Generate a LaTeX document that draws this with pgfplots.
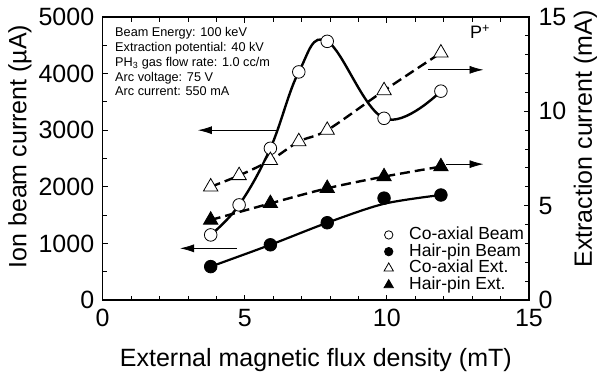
\documentclass[border=0pt]{standalone}
\usepackage{fontspec}
\setmainfont{Liberation Sans}
\usepackage{pgfplots}
\pgfplotsset{compat=1.18}
\usetikzlibrary{arrows.meta}
\tikzset{arr/.style={line width=0.8bp, -{Latex[length=14bp,width=8bp]}}}

\begin{document}
\begin{tikzpicture}
\pgfplotsset{
 common/.style={
  scale only axis, width=426.3bp, height=283bp,
  xmin=0, xmax=15,
  tick align=inside,
  major tick length=5.5bp, minor tick length=4.5bp,
  every tick/.style={line width=0.9bp, black},
  axis line style={line width=1.1bp},
  tick label style={font=\fontsize{25bp}{30bp}\selectfont},
  label style={font=\fontsize{25bp}{30bp}\selectfont},
  /pgf/number format/assume math mode=true,
  /pgf/number format/1000 sep={},
  scaled ticks=false,
  clip=false,
 },
}
\begin{axis}[common, name=ax,
  ymin=0, ymax=5000, ytick={0,1000,...,5000}, minor y tick num=1,
  xtick={0,5,10,15}, minor x tick num=4, xtick pos=both, ytick pos=left,
  xticklabel style={yshift=-6bp},
  yticklabel style={xshift=-5bp},
  xlabel={External magnetic flux density (mT)},
  ylabel={Ion beam current (µA)},
  xlabel style={at={(axis description cs:0.5,-0.2356)}, anchor=base},
  ylabel style={at={(axis description cs:-0.194,0.542)}, anchor=center},
]
\addplot[smooth, tension=0.65, line width=2.4bp, mark=*, mark size=6.3bp,
  mark options={solid, fill=white, draw=black, line width=0.8bp}]
  coordinates {(3.8,1150) (4.8,1680) (5.9,2680) (6.9,4030) (7.9,4570) (9.9,3210) (11.9,3690)};
% hair-pin beam: fitted line, then measured points
\addplot[smooth, line width=2.2bp]
  coordinates {(3.8,590) (5.9,975) (7.9,1365) (9.9,1700) (11.9,1855)};
\addplot[only marks, mark=*, mark size=6.3bp,
  mark options={solid, fill=black, draw=black, line width=0.8bp}]
  coordinates {(3.8,590) (5.9,975) (7.9,1365) (9.9,1800) (11.9,1855)};
\draw[arr] (axis cs:6.12,3000) -- (axis cs:3.35,3000);
\draw[arr] (axis cs:4.72,913) -- (axis cs:2.72,913);
\node[anchor=north west, inner sep=0pt, align=left, font=\fontsize{12.7bp}{14.9bp}\selectfont]
  at (rel axis cs:0.0289,0.9647) {Beam Energy: 100 keV\\Extraction potential: 40 kV\\PH\textsubscript{3} gas flow rate: 1.0 cc/m\\Arc voltage: 75 V\\Arc current: 550 mA};
\node[font=\fontsize{18bp}{20bp}\selectfont] at (rel axis cs:0.885,0.947) {P\textsuperscript{+}};
\end{axis}
\begin{axis}[common,
  ymin=0, ymax=15, ytick={0,5,10,15}, minor y tick num=4,
  axis x line=none, axis y line*=right,
  yticklabel style={xshift=6bp},
  ylabel={Extraction current (mA)},
  ylabel style={at={(axis description cs:1.1325,0.569)}, anchor=center},
  legend style={at={(rel axis cs:0.66,0.2594)}, anchor=north west, draw=none, fill=none,
    inner sep=0pt, outer sep=0pt, row sep=0pt, column sep=0pt,
    font=\fontsize{17.5bp}{20bp}\selectfont,
    nodes={inner ysep=0pt, inner xsep=0pt, text height=12.9bp, text depth=3.8bp}},
  legend cell align=left,
  legend image code/.code={\path[draw=none, fill=none] (-4.5bp,0bp) (20.5bp,0bp); \draw[#1] plot coordinates {(0bp,0bp)};},
]
\addlegendimage{only marks, mark=*, mark size=4.2bp, mark options={fill=white, draw=black, line width=0.8bp}}
\addlegendentry{Co-axial Beam}
\addlegendimage{only marks, mark=*, mark size=4.2bp, mark options={fill=black, draw=black, line width=0.8bp}}
\addlegendentry{Hair-pin Beam}
\addlegendimage{only marks, mark=triangle*, mark size=5.4bp, mark options={fill=white, draw=black, line width=0.8bp}}
\addlegendentry{Co-axial Ext.}
\addlegendimage{only marks, mark=triangle*, mark size=5.4bp, mark options={fill=black, draw=black, line width=0.8bp}}
\addlegendentry{Hair-pin Ext.}
\addplot[forget plot, smooth, line width=2.4bp, dash pattern=on 10bp off 5bp, mark=triangle*, mark size=8.3bp,
  mark options={solid, fill=white, draw=black, line width=0.8bp}]
  coordinates {(3.8,6.0) (4.8,6.6) (5.9,7.4) (6.9,8.4) (7.9,9.0) (9.9,11.1) (11.9,13.1)};
\addplot[forget plot, smooth, line width=2.4bp, dash pattern=on 10bp off 5bp, mark=triangle*, mark size=8.3bp,
  mark options={solid, fill=black, draw=black, line width=0.8bp}]
  coordinates {(3.8,4.24) (5.9,5.12) (7.9,5.92) (9.9,6.54) (11.9,7.07)};
\draw[arr] (axis cs:11.44,12.2) -- (axis cs:13.4,12.2);
\draw[arr] (axis cs:12.08,7.2) -- (axis cs:13.4,7.2);
\end{axis}
\pgfresetboundingbox
\path[use as bounding box] ([shift={(-102.7bp,-72bp)}]ax.south west) rectangle ([shift={(496.3bp,300bp)}]ax.south west);
\end{tikzpicture}
\end{document}
